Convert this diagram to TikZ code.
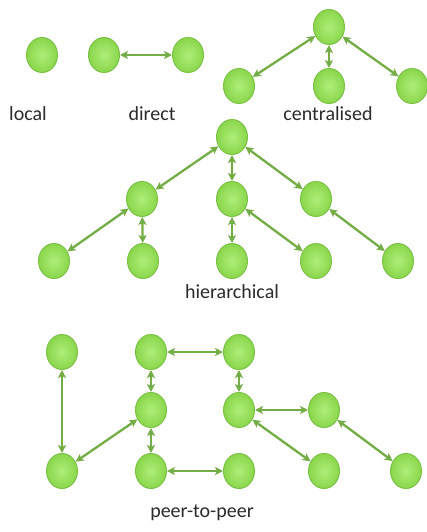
\documentclass[tikz,border=0pt]{standalone}
\usepackage{fontspec}
\setmainfont{Carlito}
\usetikzlibrary{shapes.geometric,arrows.meta}
\definecolor{nodeIn}{HTML}{AEEE78}
\definecolor{nodeOut}{HTML}{8AD64C}
\definecolor{nodeRim}{HTML}{7CC246}
\definecolor{linkCol}{HTML}{74AC46}
\definecolor{labelCol}{HTML}{2B2B2B}
\tikzset{
  peer/.style={ellipse, minimum width=31pt, minimum height=35pt, inner sep=0pt,
    draw=nodeRim, line width=1pt, inner color=nodeIn, outer color=nodeOut},
  link/.style={draw=linkCol, line width=2.3pt,
    {Stealth[length=8pt,width=8pt,inset=2pt]}-{Stealth[length=8pt,width=8pt,inset=2pt]}},
  caption/.style={text=labelCol, font=\fontsize{20}{24}\selectfont, inner sep=0pt}
}
\begin{document}
\begin{tikzpicture}[x=1pt,y=-1pt]
\useasboundingbox[fill=white] (0,0) rectangle (427,532);

% local
\node[peer] (lo) at (42,55) {};
\node[caption] (loT) at (28,114) {local};

% direct
\node[peer] (d1) at (104,55) {};
\node[peer] (d2) at (188,55) {};
\node[caption] (dT) at (152,114) {direct};
\draw[link] (d1) -- (d2);

% centralised
\node[peer] (c0) at (329,27) {};
\node[peer] (c1) at (239,86) {};
\node[peer] (c2) at (329,86) {};
\node[peer] (c3) at (412,86) {};
\node[caption] (cT) at (328,114) {centralised};
\draw[link] (c0) -- (c1);
\draw[link] (c0) -- (c2);
\draw[link] (c0) -- (c3);

% hierarchical
\node[peer] (h0) at (232,137) {};
\node[peer] (h1) at (142,199) {};
\node[peer] (h2) at (232,199) {};
\node[peer] (h3) at (316,199) {};
\node[peer] (h4) at (54,261) {};
\node[peer] (h5) at (143,261) {};
\node[peer] (h6) at (232,261) {};
\node[peer] (h7) at (316,261) {};
\node[peer] (h8) at (398,261) {};
\node[caption] (hT) at (232,292) {hierarchical};
\draw[link] (h0) -- (h1);
\draw[link] (h0) -- (h2);
\draw[link] (h0) -- (h3);
\draw[link] (h1) -- (h4);
\draw[link] (h1) -- (h5);
\draw[link] (h2) -- (h6);
\draw[link] (h2) -- (h7);
\draw[link] (h3) -- (h8);

% peer-to-peer
\node[peer] (p1) at (62,352) {};
\node[peer] (p2) at (151,352) {};
\node[peer] (p3) at (239,352) {};
\node[peer] (p4) at (151,410) {};
\node[peer] (p5) at (239,410) {};
\node[peer] (p6) at (324,410) {};
\node[peer] (p7) at (62,471) {};
\node[peer] (p8) at (151,471) {};
\node[peer] (p9) at (239,471) {};
\node[peer] (p10) at (324,471) {};
\node[peer] (p11) at (406,471) {};
\node[caption] (pT) at (202,513) {peer-to-peer};
\draw[link] (p1) -- (p7);
\draw[link] (p7) -- (p4);
\draw[link] (p2) -- (p3);
\draw[link] (p2) -- (p4);
\draw[link] (p4) -- (p8);
\draw[link] (p8) -- (p9);
\draw[link] (p3) -- (p5);
\draw[link] (p5) -- (p6);
\draw[link] (p5) -- (p10);
\draw[link] (p6) -- (p11);
\end{tikzpicture}
\end{document}
